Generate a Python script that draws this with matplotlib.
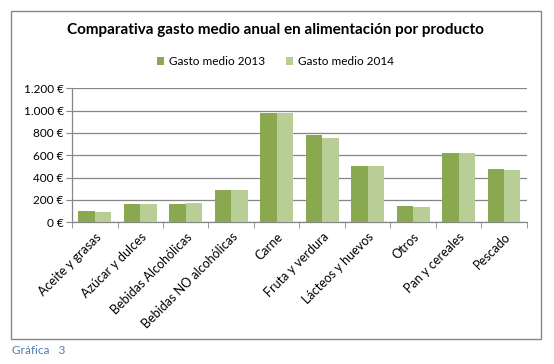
import numpy as np
import matplotlib
matplotlib.use("Agg")
import matplotlib.pyplot as plt
from matplotlib.patches import Rectangle
from matplotlib.ticker import FuncFormatter

plt.rcParams['font.family'] = ['Lato', 'DejaVu Sans']

# Datos
categorias = ['Aceite y grasas', 'Azúcar y dulces', 'Bebidas Alcohólicas',
              'Bebidas NO alcohólicas', 'Carne', 'Fruta y verdura',
              'Lácteos y huevos', 'Otros', 'Pan y cereales', 'Pescado']
gasto_2013 = [101, 164, 164, 290, 979, 782, 504, 146, 621, 478]
gasto_2014 = [93, 164, 173, 290, 976, 755, 504, 137, 621, 469]

verde_oscuro = '#8aa84f'
verde_claro = '#b9cd96'
gris = '#868686'

fig = plt.figure(figsize=(5.54, 3.64), dpi=100)
ax = fig.add_axes([0.130, 0.3893, 0.821, 0.368])

x = np.arange(len(categorias))
w = 0.36
ax.bar(x - w / 2, gasto_2013, w, color=verde_oscuro, label='Gasto medio 2013', zorder=3)
ax.bar(x + w / 2, gasto_2014, w, color=verde_claro, label='Gasto medio 2014', zorder=3)

ax.set_xlim(-0.5, len(categorias) - 0.5)
ax.set_ylim(0, 1200)
ax.set_yticks(np.arange(0, 1201, 200))
ax.yaxis.set_major_formatter(FuncFormatter(lambda v, p: f'{int(v):,} €'.replace(',', '.')))
ax.grid(axis='y', color=gris, linewidth=0.9, zorder=0)

ax.set_xticks(x)
ax.set_xticklabels(categorias, rotation=45, ha='right', rotation_mode='anchor', fontsize=9)
ax.set_xticks(np.arange(-0.5, len(categorias)), minor=True)
ax.tick_params(axis='x', which='major', length=0, pad=6)
ax.tick_params(axis='x', which='minor', length=4, color=gris)
ax.tick_params(axis='y', length=4, color=gris, labelsize=8.5, pad=2)

for s in ['top', 'right']:
    ax.spines[s].set_visible(False)
for s in ['left', 'bottom']:
    ax.spines[s].set_color(gris)
    ax.spines[s].set_linewidth(0.9)

fig.legend(loc='center', bbox_to_anchor=(0.497, 0.830), ncol=2, frameon=False,
           fontsize=8.5, handlelength=0.6, handleheight=0.6, handletextpad=0.4,
           columnspacing=1.8)

fig.text(0.497, 0.917, 'Comparativa gasto medio anual en alimentación por producto',
         ha='center', va='center', fontsize=11, fontweight='bold')

fig.patches.append(Rectangle((0.0199, 0.0687), 0.957, 0.901, transform=fig.transFigure,
                             fill=False, edgecolor=gris, linewidth=1))

fig.text(0.022, 0.036, 'Gráfica   3', ha='left', va='center', fontsize=8.5,
         color='#4f7fb0')

fig.savefig('out.png', dpi=100)
